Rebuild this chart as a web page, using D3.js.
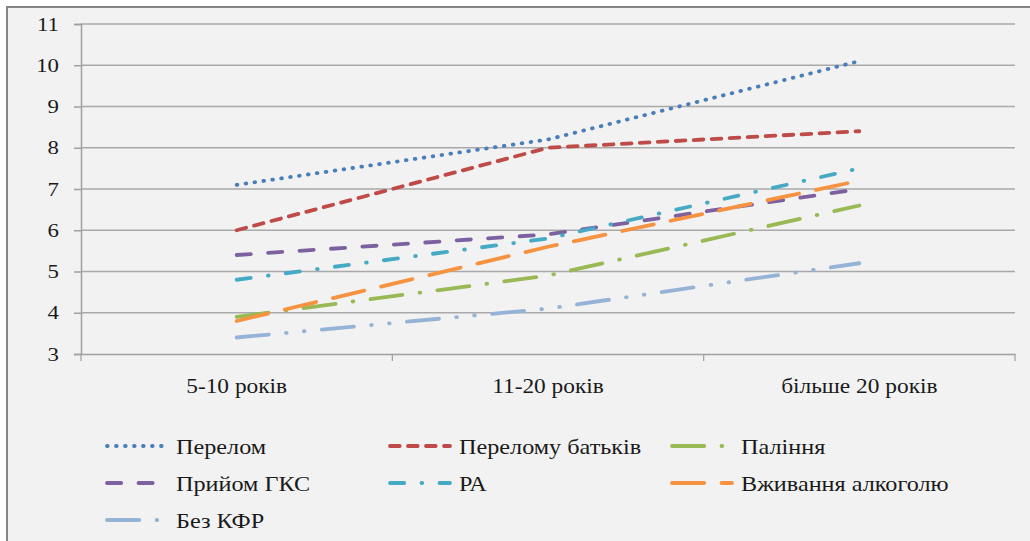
<!DOCTYPE html>
<html>
<head>
<meta charset="utf-8">
<script src="https://cdn.jsdelivr.net/npm/d3@7/dist/d3.min.js"></script>
<style>
  #chart text { font-family: "Liberation Serif", serif !important; }
</style>
</head>
<body style="margin:0;padding:0;background:#ffffff;font-family:'Liberation Serif',serif">
<svg id="chart" width="1030" height="541" style="display:block" font-family="Liberation Serif"></svg>
<script>
// ---- data ----
const categories = ["5-10 років", "11-20 років", "більше 20 років"];
const yTicks = [3, 4, 5, 6, 7, 8, 9, 10, 11];
const seriesNames = ["Перелом", "Перелому батьків", "Паління", "Прийом ГКС", "РА", "Вживання алкоголю", "Без КФР"];
const perelom        = [7.1, 8.2, 10.1];
const perelomBatkiv  = [6.0, 8.0, 8.4];
const palinnia       = [3.9, 4.9, 6.6];
const pryiomGKS      = [5.4, 5.9, 7.0];
const ra             = [4.8, 5.8, 7.5];
const alkohol        = [3.8, 5.6, 7.2];
const bezKFR         = [3.4, 4.1, 5.2];
const seriesValues = [perelom, perelomBatkiv, palinnia, pryiomGKS, ra, alkohol, bezKFR];

// ---- styles ----
const colors = ["#4A7EBB", "#BE4B48", "#98B954", "#7D60A0", "#46AAC5", "#F69240", "#95B3D7"];
const dashUnits = [
  [1, 1],             // sysDot
  [3, 1],             // sysDash
  [8, 3, 1, 3],       // lgDashDot
  [4, 3],             // dash
  [4, 3, 1, 3],       // dashDot
  [8, 3],             // lgDash
  [8, 3, 1, 3, 1, 3]  // lgDashDotDot
];
const unit = 4.5, sw = 3.8;
function dashArray(u) {
  const out = [];
  for (let i = 0; i < u.length; i += 2) {
    out.push(Math.max(0.01, u[i] * unit - sw));
    out.push(u[i + 1] * unit + sw);
  }
  return out.join(" ");
}
function serif(sel, size, stretch) {
  sel.attr("font-family", "Liberation Serif")
     .style("font-family", '"Liberation Serif", serif')
     .attr("font-size", size)
     .attr("fill", "#1a1a1a")
     .each(function () {
       const w = this.getComputedTextLength();
       d3.select(this).attr("textLength", w * stretch).attr("lengthAdjust", "spacingAndGlyphs");
     });
}

const svg = d3.select("#chart");
const W = 1030, H = 541;

svg.append("rect").attr("x", 7).attr("y", 7).attr("width", W + 10).attr("height", H + 10)
  .attr("fill", "#f2f2f2").attr("stroke", "#868686").attr("stroke-width", 2);

const plot = { left: 81, right: 1015, top: 24, bottom: 354 };

const x = d3.scaleBand().domain(categories).range([plot.left, plot.right]).padding(0);
const y = d3.scaleLinear().domain([3, 11]).range([plot.bottom, plot.top]);

svg.append("g").selectAll("line").data(yTicks.filter(t => t > 3)).join("line")
  .attr("x1", plot.left).attr("x2", plot.right)
  .attr("y1", d => y(d)).attr("y2", d => y(d))
  .attr("stroke", "#a9a9a9").attr("stroke-width", 1.5);

const yAxis = svg.append("g").attr("transform", `translate(${plot.left},0)`)
  .call(d3.axisLeft(y).tickValues(yTicks).tickSize(7).tickPadding(15).tickFormat(d3.format("d")));
yAxis.attr("font-family", "Liberation Serif");
yAxis.select(".domain").attr("stroke", "#a0a0a0").attr("stroke-width", 1.5);
yAxis.selectAll(".tick line").attr("stroke", "#a0a0a0").attr("stroke-width", 1.5);
serif(yAxis.selectAll("text"), 19, 1.2);

const xAxis = svg.append("g").attr("transform", `translate(0,${plot.bottom})`)
  .call(d3.axisBottom(x).tickSize(0).tickPadding(24));
xAxis.attr("font-family", "Liberation Serif");
xAxis.select(".domain").attr("stroke", "#a0a0a0").attr("stroke-width", 1.5);
serif(xAxis.selectAll("text"), 20.5, 1.14);
const bounds = categories.map(c => x(c)).concat([plot.right]);
svg.append("g").selectAll("line").data(bounds).join("line")
  .attr("x1", d => d).attr("x2", d => d)
  .attr("y1", plot.bottom).attr("y2", plot.bottom + 7)
  .attr("stroke", "#a0a0a0").attr("stroke-width", 1.2);

const line = d3.line()
  .x((d, i) => x(categories[i]) + x.bandwidth() / 2)
  .y(d => y(d));
svg.append("g").selectAll("path").data(seriesValues).join("path")
  .attr("d", d => line(d))
  .attr("fill", "none")
  .attr("stroke", (d, i) => colors[i])
  .attr("stroke-width", sw)
  .attr("stroke-linecap", "round")
  .attr("stroke-dasharray", (d, i) => dashArray(dashUnits[i]));

const legCols = [107, 390, 672];
const legRows = [446, 483, 520];
const legend = svg.append("g").attr("font-family", "Liberation Serif")
  .selectAll("g").data(seriesNames).join("g")
  .attr("transform", (d, i) => `translate(${legCols[i % 3]},${legRows[Math.floor(i / 3)]})`);
legend.append("line")
  .attr("x1", 0).attr("x2", 60).attr("y1", 0).attr("y2", 0)
  .attr("stroke", (d, i) => colors[i])
  .attr("stroke-width", sw)
  .attr("stroke-linecap", "round")
  .attr("stroke-dasharray", (d, i) => dashArray(dashUnits[i]));
const legText = legend.append("text")
  .attr("x", 69).attr("y", 0).attr("dy", "0.35em")
  .text(d => d);
serif(legText, 22, 1.1);
</script>
</body>
</html>
